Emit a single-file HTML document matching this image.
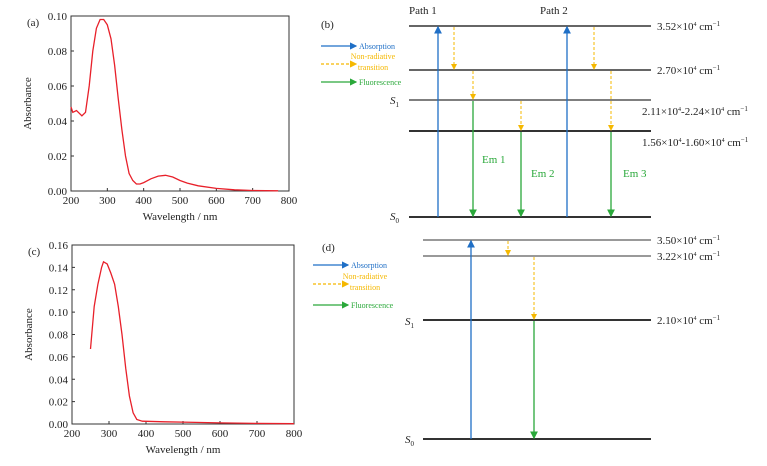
<!DOCTYPE html>
<html><head><meta charset="utf-8">
<style>
body{margin:0;background:#fff;}
svg{display:block;font-family:"Liberation Serif",serif;}
</style></head>
<body>
<svg id="fig" width="767" height="466" viewBox="0 0 767 466" xmlns="http://www.w3.org/2000/svg">
<defs>
<marker id="mb" markerWidth="6" markerHeight="6" refX="5" refY="3" orient="auto"><path d="M0,0 L6,3 L0,6 z" fill="#1f6fc6"/></marker>
<marker id="my" markerWidth="6" markerHeight="6" refX="5" refY="3" orient="auto"><path d="M0,0 L6,3 L0,6 z" fill="#f5b800"/></marker>
<marker id="mg" markerWidth="6" markerHeight="6" refX="5" refY="3" orient="auto"><path d="M0,0 L6,3 L0,6 z" fill="#2aa83a"/></marker>
</defs>
<g id="chartA"></g>
<g id="chartC"></g>
<g id="diagB"></g>
<g id="diagD"></g>
</svg>
<script>
const NS="http://www.w3.org/2000/svg";
const waveA=[200,205,215,220,230,240,250,260,270,280,290,300,310,320,330,340,350,360,370,380,390,400,420,440,460,480,500,520,550,600,650,700,770];
const absA=[0.048,0.045,0.046,0.045,0.043,0.045,0.06,0.08,0.093,0.098,0.098,0.095,0.087,0.072,0.053,0.035,0.02,0.01,0.006,0.004,0.004,0.0048,0.007,0.0085,0.009,0.008,0.006,0.0045,0.003,0.0015,0.0007,0.0003,0.0001];
const waveC=[250,260,270,280,285,295,305,315,325,335,345,355,365,375,390,450,500,600,700,800];
const absC=[0.067,0.105,0.125,0.14,0.145,0.143,0.135,0.125,0.105,0.08,0.05,0.025,0.01,0.004,0.0025,0.002,0.0017,0.001,0.0005,0.0003];
const xTicks=[200,300,400,500,600,700,800];
const yTicksA=[0,0.02,0.04,0.06,0.08,0.10];
const yTicksC=[0,0.02,0.04,0.06,0.08,0.10,0.12,0.14,0.16];

function el(p,t,a){const e=document.createElementNS(NS,t);for(const k in a)e.setAttribute(k,a[k]);p.appendChild(e);return e;}

function chart(g,cfg){
  const x=v=>cfg.x0+(v-200)/600*(cfg.x1-cfg.x0);
  const y=v=>cfg.y0-(v/cfg.ymax)*(cfg.y0-cfg.y1);
  const box=el(g,'rect',{x:cfg.x0,y:cfg.y1,width:cfg.x1-cfg.x0,height:cfg.y0-cfg.y1,fill:'none',stroke:'#333','stroke-width':1});
  
  
  xTicks.forEach(t=>{
    el(g,'line',{x1:x(t),x2:x(t),y1:cfg.y0,y2:cfg.y0-3,stroke:'#333'});
    const tx=el(g,'text',{x:x(t),y:cfg.y0+13,'font-size':11,'text-anchor':'middle',fill:'#222'});tx.textContent=t;
    
    
  });
  cfg.yt.forEach(t=>{
    el(g,'line',{x1:cfg.x0,x2:cfg.x0+3,y1:y(t),y2:y(t),stroke:'#333'});
    const tx=el(g,'text',{x:cfg.x0-4,y:y(t)+4,'font-size':11,'text-anchor':'end',fill:'#222'});tx.textContent=t.toFixed(2);
    
    
  });
  const xt=el(g,'text',{x:(cfg.x0+cfg.x1)/2,y:cfg.y0+29,'font-size':11,'text-anchor':'middle',fill:'#222'});xt.textContent='Wavelength / nm';
  
  
  const cy=(cfg.y0+cfg.y1)/2;
  const yt=el(g,'text',{x:cfg.x0-40,y:cy,'font-size':11,'text-anchor':'middle',fill:'#222',transform:`rotate(-90 ${cfg.x0-40} ${cy})`});yt.textContent='Absorbance';
  
  
  const lb=el(g,'text',{x:cfg.x0-44,y:cfg.y1+10,'font-size':11,fill:'#222'});lb.textContent=cfg.label;
  
  
  const d=cfg.w.map((v,i)=>(i?'L':'M')+x(v).toFixed(1)+','+y(cfg.a[i]).toFixed(1)).join(' ');
  const p=el(g,'path',{d:d,fill:'none',stroke:'#e8202a','stroke-width':1.3});
  
  
}
chart(document.getElementById('chartA'),{x0:71,x1:289,y0:191,y1:16,ymax:0.10,yt:yTicksA,w:waveA,a:absA,label:'(a)'});
chart(document.getElementById('chartC'),{x0:72,x1:294,y0:424,y1:245,ymax:0.16,yt:yTicksC,w:waveC,a:absC,label:'(c)'});

function txt(g,x,y,s,size,fill,name,anchor){const t=el(g,'text',{x:x,y:y,'font-size':size,fill:fill,'text-anchor':anchor||'start'});t.innerHTML=s;
  
  return t;}
function level(g,x1,x2,y,w,name){const l=el(g,'line',{x1:x1,x2:x2,y1:y,y2:y,stroke:'#333','stroke-width':w});
  
  }
function arrow(g,x,ya,yb,type,name){
  const c={b:'#1f6fc6',y:'#f5b800',g:'#2aa83a'}[type];
  const a={stroke:c,'stroke-width':type==='y'?1:1.3,'marker-end':'url(#m'+type+')'};
  if(type==='y')a['stroke-dasharray']='3,2';
  Object.assign(a,{x1:x,x2:x,y1:ya,y2:yb});
  const l=el(g,'line',a);
  
  }
function hArrow(g,x1,x2,y,type,name){
  const c={b:'#1f6fc6',y:'#f5b800',g:'#2aa83a'}[type];
  const a={x1:x1,x2:x2,y1:y,y2:y,stroke:c,'stroke-width':1.2,'marker-end':'url(#m'+type+')'};
  if(type==='y')a['stroke-dasharray']='3,2';
  const l=el(g,'line',a);
  
  }
function legend(g,x,ys){
  hArrow(g,x,x+35,ys[0],'b','legend-absorption-arrow');
  txt(g,x+38,ys[0]+3,'Absorption',8,'#1f6fc6','legend-absorption');
  hArrow(g,x,x+35,ys[1],'y','legend-nonradiative-arrow');
  txt(g,x+52,ys[1]-5,'Non-radiative',8,'#f5b800','legend-nonradiative','middle');
  txt(g,x+52,ys[1]+6,'transition',8,'#f5b800','legend-nonradiative-2','middle');
  hArrow(g,x,x+35,ys[2],'g','legend-fluorescence-arrow');
  txt(g,x+38,ys[2]+3,'Fluorescence',8,'#2aa83a','legend-fluorescence');
}
const S='<tspan font-style="italic">S</tspan>';
// Panel b
const b=document.getElementById('diagB');
txt(b,321,28,'(b)',11,'#222','panel-label-b');
txt(b,409,14,'Path 1',11,'#222','path-1-label');
txt(b,540,14,'Path 2',11,'#222','path-2-label');
legend(b,321,[46,64,82]);
[[26,1.5],[70,1.5],[100,1.3],[131,2],[217,2]].forEach(l=>level(b,409,651,l[0],l[1],'energy-level'));
txt(b,657,30,'3.52×10<tspan font-size="6" dy="-4">4</tspan><tspan dy="4"> cm</tspan><tspan font-size="7" dy="-4">−1</tspan>',11,'#222','level-label');
txt(b,657,74,'2.70×10<tspan font-size="6" dy="-4">4</tspan><tspan dy="4"> cm</tspan><tspan font-size="7" dy="-4">−1</tspan>',11,'#222','level-label');
txt(b,642,115,'2.11×10<tspan font-size="6" dy="-4">4</tspan><tspan dy="4">-2.24×10</tspan><tspan font-size="6" dy="-4">4</tspan><tspan dy="4"> cm</tspan><tspan font-size="7" dy="-4">−1</tspan>',11,'#222','level-label');
txt(b,642,146,'1.56×10<tspan font-size="6" dy="-4">4</tspan><tspan dy="4">-1.60×10</tspan><tspan font-size="6" dy="-4">4</tspan><tspan dy="4"> cm</tspan><tspan font-size="7" dy="-4">−1</tspan>',11,'#222','level-label');
txt(b,390,104,S+'<tspan font-size="7" dy="3">1</tspan>',11,'#222','s1-label');
txt(b,390,220,S+'<tspan font-size="7" dy="3">0</tspan>',11,'#222','s0-label');
arrow(b,438,217,27,'b','absorption-path1');
arrow(b,567,217,27,'b','absorption-path2');
arrow(b,454,27,69,'y','nonrad-1');
arrow(b,473,71,99,'y','nonrad-2');
arrow(b,521,101,130,'y','nonrad-3');
arrow(b,594,27,69,'y','nonrad-4');
arrow(b,611,71,130,'y','nonrad-5');
arrow(b,473,101,216,'g','em1-arrow');
arrow(b,521,132,216,'g','em2-arrow');
arrow(b,611,132,216,'g','em3-arrow');
txt(b,482,163,'Em 1',11,'#2aa83a','em1-label');
txt(b,531,177,'Em 2',11,'#2aa83a','em2-label');
txt(b,623,177,'Em 3',11,'#2aa83a','em3-label');
// Panel d
const d=document.getElementById('diagD');
txt(d,322,251,'(d)',11,'#222','panel-label-d');
legend(d,313,[265,284,305]);
[[240,1],[256,1],[320,2],[439,2]].forEach(l=>level(d,423,651,l[0],l[1],'energy-level'));
txt(d,657,244,'3.50×10<tspan font-size="6" dy="-4">4</tspan><tspan dy="4"> cm</tspan><tspan font-size="7" dy="-4">−1</tspan>',11,'#222','level-label');
txt(d,657,260,'3.22×10<tspan font-size="6" dy="-4">4</tspan><tspan dy="4"> cm</tspan><tspan font-size="7" dy="-4">−1</tspan>',11,'#222','level-label');
txt(d,657,324,'2.10×10<tspan font-size="6" dy="-4">4</tspan><tspan dy="4"> cm</tspan><tspan font-size="7" dy="-4">−1</tspan>',11,'#222','level-label');
txt(d,405,325,S+'<tspan font-size="7" dy="3">1</tspan>',11,'#222','s1-label');
txt(d,405,443,S+'<tspan font-size="7" dy="3">0</tspan>',11,'#222','s0-label');
arrow(d,471,439,241,'b','absorption');
arrow(d,508,241,255,'y','nonrad-1');
arrow(d,534,257,319,'y','nonrad-2');
arrow(d,534,321,438,'g','fluorescence');
</script>
</body></html>
